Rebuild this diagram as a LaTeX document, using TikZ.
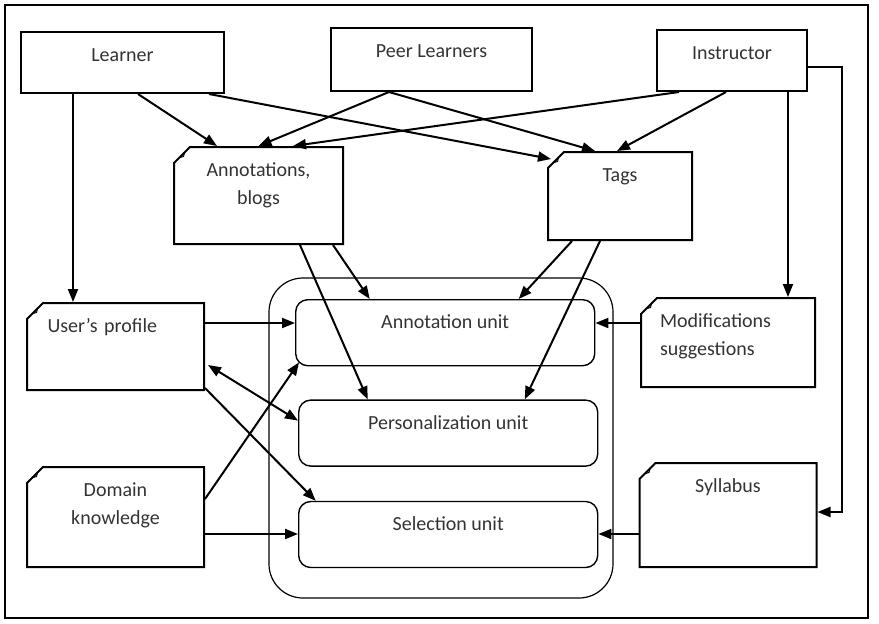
\documentclass[tikz,border=0pt]{standalone}
\usepackage{fontspec}
\setmainfont{Carlito}
\usetikzlibrary{arrows.meta,shapes.misc,positioning}
\tikzset{
  %Define standard arrow tip
    >={Triangle[length=6.5pt,width=5pt]},
  %define style for the person boxes
  actor/.style={
    rectangle,
    draw=black, line width=1pt,
    inner sep=0pt,
    text height=7pt,
    text=black!80,
    align=center,
    anchor=north west},
  %define style for the document boxes
  docbox/.style={
    chamfered rectangle,
    chamfered rectangle corners=north west,
    chamfered rectangle xsep=4pt,
    chamfered rectangle ysep=4pt,
    draw=black, line width=1pt,
    inner sep=0pt,
    text height=7pt,
    text=black!80,
    align=center,
    path picture={
      \draw[line width=0.5pt] ([yshift=-5pt]path picture bounding box.north west)
        .. controls ([shift={(5.5pt,-5.5pt)}]path picture bounding box.north west) ..
        ([xshift=5pt]path picture bounding box.north west);}},
  %define style for the units
  unitbox/.style={
    rectangle,
    rounded corners=6pt,
    draw=black, line width=0.7pt,
    minimum width=149.5pt,
    minimum height=33pt,
    inner sep=0pt,
    text height=7pt,
    text depth=11pt,
    text=black!80},
  %define style for arrows
  myarrow/.style={
    ->,
    line width=1pt}
}
\begin{document}
\begin{tikzpicture}[x=0.5pt, y=-0.5pt, font=\fontsize{10}{14}\selectfont]
\useasboundingbox (0,0) rectangle (879,623);
\draw[line width=1pt] (5,5) rectangle (868,618);

%people
\node[actor, minimum width=101.5pt, minimum height=30.5pt, text depth=8.5pt] (learner) at (20,31) {Learner};
\node[actor, minimum width=100.5pt, minimum height=31.5pt, text depth=9.5pt] (peers) at (330,27) {Peer Learners};
\node[actor, minimum width=75pt, minimum height=30.5pt, text depth=8.5pt] (instructor) at (656,29) {Instructor};

%documents
\node[docbox, minimum width=84.5pt, minimum height=48.5pt, text depth=26.5pt, text width=64.5pt] (annot) at (258.5,195.5) {Annotations,\\blogs};
\node[docbox, minimum width=72pt, minimum height=44pt, text depth=22pt] (tags) at (620,196) {Tags};
\node[docbox, minimum width=88.5pt, minimum height=43.5pt, text depth=21.5pt, text width=68pt, align=left] (profile) at (115.5,346.5) {User's profile};
\node[docbox, below=37.5pt of profile, minimum width=88.5pt, minimum height=50pt, text depth=28pt, text width=68.5pt] (domain) {Domain\\knowledge};
\node[docbox, minimum width=87pt, minimum height=44.5pt, text depth=22.5pt, text width=68pt, align=left] (modif) at (728,342.5) {Modifications\\suggestions};
\node[docbox, below=37pt of modif, minimum width=88.5pt, minimum height=52pt, text depth=30pt] (syllabus) {Syllabus};

%units
\draw[line width=0.6pt, rounded corners=17pt] (269,278) rectangle (613,598);
\node[unitbox, anchor=north west] (annunit) at (295,299) {Annotation unit};
\node[unitbox, below=16.5pt of annunit, xshift=1.5pt] (persunit) {Personalization unit};
\node[unitbox, below=17pt of persunit] (selunit) {Selection unit};

%connections
\coordinate (lp) at ([xshift=-24.75pt]learner.south);
\draw[myarrow] (lp) -- (lp |- profile.north);
\draw[myarrow] ([xshift=7.75pt]learner.south) -- ([xshift=-20.75pt]annot.north);
\draw[myarrow] ([xshift=43.25pt]learner.south) -- ([shift={(-34.5pt,-4pt)}]tags.north);
\draw[myarrow] ([xshift=-21.25pt]peers.south) -- (annot.north);
\draw[myarrow] ([xshift=-21.25pt]peers.south) -- ([xshift=-12.5pt]tags.north);
\draw[myarrow] ([xshift=-26.5pt]instructor.south) -- ([xshift=17.25pt]annot.north);
\draw[myarrow] ([xshift=-3pt]instructor.south) -- ([xshift=-1.5pt]tags.north);
\coordinate (im) at ([xshift=28pt]instructor.south);
\draw[myarrow] (im) -- (im |- modif.north);
\draw[myarrow] ([yshift=-3pt]instructor.east) -- ++(17pt,0) |- ([yshift=1.5pt]syllabus.east);

\draw[myarrow] ([xshift=37.25pt]annot.south) -- ([xshift=-37.75pt]annunit.north);
\draw[myarrow] ([xshift=20.75pt]annot.south) -- ([xshift=-40.25pt]persunit.north);
\draw[myarrow] ([xshift=-24pt]tags.south) -- ([xshift=36.75pt]annunit.north);
\draw[myarrow] ([xshift=-10pt]tags.south) -- ([xshift=38.25pt]persunit.north);

\coordinate (pa) at ([yshift=11.75pt]profile.east);
\draw[myarrow] (pa) -- (pa -| annunit.west);
\draw[myarrow, <->] ([shift={(1.5pt,-9.25pt)}]profile.east) -- ([yshift=6.25pt]persunit.west);
\draw[myarrow] ([yshift=-20.75pt]profile.east) -- ([xshift=-66.25pt]selunit.north);
\draw[myarrow] ([yshift=9pt]domain.east) -- ([shift={(2pt,2pt)}]annunit.south west);
\coordinate (ds) at ([yshift=-8.5pt]domain.east);
\draw[myarrow] (ds) -- (ds -| selunit.west);
\coordinate (ma) at ([yshift=9.75pt]modif.west);
\draw[myarrow] (ma) -- (ma -| annunit.east);
\coordinate (ss) at ([yshift=-9.5pt]syllabus.west);
\draw[myarrow] (ss) -- (ss -| selunit.east);
\end{tikzpicture}
\end{document}
